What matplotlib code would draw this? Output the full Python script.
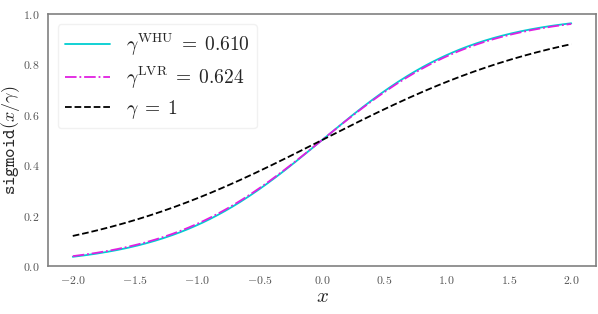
import numpy as np
import matplotlib
matplotlib.use("Agg")
import matplotlib.pyplot as plt
import seaborn as sns

# temperatures shown in the legend
gamma_whu = 0.610
gamma_lvr = 0.624
gamma_one = 1.0

labels = [r'$\gamma^{\mathrm{WHU}} \;=\; 0.610$',
          r'$\gamma^{\mathrm{LVR}} \;=\; 0.624$',
          r'$\gamma \;=\; 1$']

x_min, x_max = -2.0, 2.0

sns.set_style("white")
plt.rcParams['font.family'] = 'serif'
plt.rcParams['font.serif'] = ['cmr10', 'DejaVu Serif']
plt.rcParams['mathtext.fontset'] = 'cm'
plt.rcParams['axes.formatter.use_mathtext'] = True
plt.rcParams['axes.unicode_minus'] = True


def sigmoid(z):
    return 1.0 / (1.0 + np.exp(-z))


x = np.linspace(x_min, x_max, 400)

fig = plt.figure(figsize=(5.98, 3.14), dpi=100)
ax = fig.add_axes([0.08, 0.153, 0.917, 0.802])

ax.plot(x, sigmoid(x / gamma_whu), color='#00CED1', linestyle='-', linewidth=1.3, label=labels[0])
ax.plot(x, sigmoid(x / gamma_lvr), color='#E020E0', linestyle='-.', linewidth=1.3, label=labels[1])
ax.plot(x, sigmoid(x / gamma_one), color='black', linestyle='--', linewidth=1.3, label=labels[2])

ax.set_ylim(0, 1)
ax.set_xticks([-2.0, -1.5, -1.0, -0.5, 0.0, 0.5, 1.0, 1.5, 2.0])
ax.set_yticks([0.0, 0.2, 0.4, 0.6, 0.8, 1.0])
ax.tick_params(labelsize=8.5, colors='#555555', pad=2.5)

ax.set_xlabel(r'$x$', fontsize=15, labelpad=1)
ax.set_ylabel(r'$\mathtt{sigmoid}(x/\gamma)$', fontsize=13)
ax.yaxis.set_label_coords(-0.048, 0.5)

for s in ax.spines.values():
    s.set_color('#808080')
    s.set_linewidth(1.2)

leg = ax.legend(loc='upper left', fontsize=14, frameon=True, handlelength=2.3,
                borderpad=0.4, labelspacing=0.35, handletextpad=0.8)
leg.get_frame().set_edgecolor('#eeeeee')

fig.savefig('out.png', dpi=100)
